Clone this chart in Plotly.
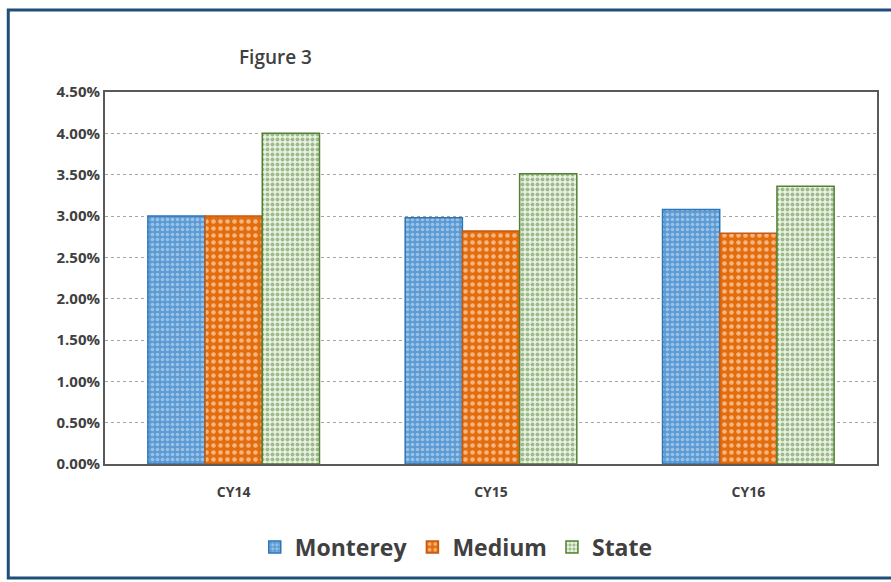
import plotly.graph_objects as go

categories = ["CY14", "CY15", "CY16"]
monterey = [0.0300, 0.0298, 0.0308]
medium = [0.0300, 0.0282, 0.0279]
state = [0.0400, 0.0351, 0.0336]
tick_vals = [0, 0.005, 0.01, 0.015, 0.02, 0.025, 0.03, 0.035, 0.04, 0.045]

fig = go.Figure()
fig.add_bar(name="Monterey", x=categories, y=monterey,
            marker=dict(color="#5B9BD5", line=dict(color="#2E75B6", width=1.5),
                        pattern=dict(shape=".", fgcolor="#DDEBF7", bgcolor="#5B9BD5", size=5, solidity=0.4)))
fig.add_bar(name="Medium", x=categories, y=medium,
            marker=dict(color="#E46C0A", line=dict(color="#C55A11", width=1.5),
                        pattern=dict(shape=".", fgcolor="#FFFFFF", bgcolor="#E46C0A", size=7, solidity=0.33)))
fig.add_bar(name="State", x=categories, y=state,
            marker=dict(color="#E2EFDA", line=dict(color="#548235", width=1.5),
                        pattern=dict(shape=".", fgcolor="#548235", bgcolor="#EAF3E3", size=5, solidity=0.5)))

fig.update_layout(
    width=891, height=582,
    margin=dict(l=105, r=12, t=92, b=118),
    paper_bgcolor="white", plot_bgcolor="white",
    barmode="group", bargap=0.333, bargroupgap=0,
    font=dict(family="Open Sans", color="#404040"),
    showlegend=True,
    legend=dict(orientation="h", x=0.455, xanchor="center", y=-0.223, yanchor="middle",
                font=dict(size=23, color="#404040", weight="bold"), itemwidth=30, traceorder="normal"),
    annotations=[dict(text="Figure 3", xref="paper", yref="paper", x=0.171, y=1.095,
                      xanchor="left", yanchor="middle", showarrow=False,
                      font=dict(size=19, color="#404040", weight=600))],
    shapes=[dict(type="rect", xref="paper", yref="paper", x0=-0.1253, x1=1.03, y0=-0.3065, y1=1.2204,
                 line=dict(color="#1F4E79", width=3), layer="below")],
)
fig.update_xaxes(showline=True, linecolor="#595959", linewidth=2, mirror=True,
                 tickfont=dict(size=14, color="#404040", family="Open Sans", weight="bold"),
                 ticks="", ticklabelstandoff=14)
fig.update_yaxes(range=[0, 0.045], tickvals=tick_vals, tickformat=".2%",
                 showline=True, linecolor="#595959", linewidth=2, mirror=True,
                 showgrid=True, gridcolor="#A6A6A6", griddash="dot", gridwidth=1,
                 tickfont=dict(size=15, color="#404040", family="Open Sans", weight="bold"),
                 ticks="", zeroline=False)

fig.write_html("out.html")
